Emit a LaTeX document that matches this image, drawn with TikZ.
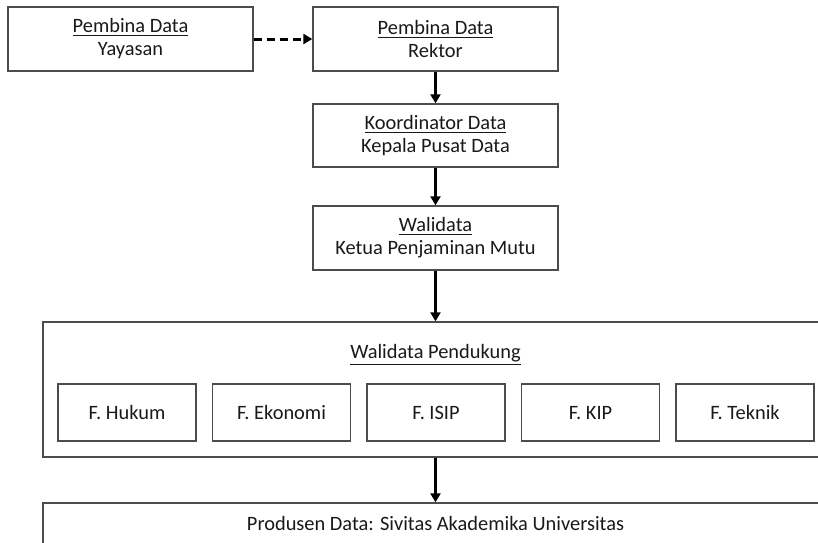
\documentclass[tikz,border=0pt]{standalone}
\usepackage{fontspec}
\setmainfont{Carlito}
\usetikzlibrary{arrows.meta}

\begin{document}
\begin{tikzpicture}[x=0.5pt,y=-0.5pt,
  box/.style={draw=black!70,line width=0.7pt,fill=white,align=center,inner sep=0pt,
    minimum width=122.5pt,minimum height=32pt,text=black!90,
    font=\fontsize{10.2}{11.5}\selectfont},
  fak/.style={box,minimum width=69pt,minimum height=28.5pt,text height=8pt,text depth=1.5pt},
  arr/.style={line width=1.5pt,-{Triangle[length=4.5pt,width=5pt]}}]
\useasboundingbox (0,0) rectangle (818,542);
\begin{scope}
  \node[box] (yay) at (130.5,39) {\underline{Pembina Data}\\Yayasan};
  \node[box] (rek) at (435.5,39) {\underline{Pembina Data}\\Rektor};
  \node[box,minimum height=31.5pt] (koor) at (435.5,135.5) {\underline{Koordinator Data}\\Kepala Pusat Data};
  \node[box] (wali) at (435.5,238) {\underline{Walidata}\\Ketua Penjaminan Mutu};
\end{scope}
\begin{scope}
  \node[box,minimum width=392.5pt,minimum height=67.5pt] (pend) at (435.5,389.5) {};
  \node[font=\fontsize{10.2}{11.5}\selectfont,text=black!90] (pendlbl) at (435.5,355) {\underline{Walidata Pendukung}};
  \node[fak] (hukum) at (127,412.5) {F. Hukum};
  \node[fak] (eko) at (281.5,412.5) {F. Ekonomi};
  \node[fak] (isip) at (436,412.5) {F. ISIP};
  \node[fak] (kip) at (590.5,412.5) {F. KIP};
  \node[fak] (tek) at (745,412.5) {F. Teknik};
\end{scope}
\node[box,minimum width=392.5pt,minimum height=21pt,text height=8pt,text depth=1.5pt] (prod) at (435.5,524) {Produsen Data: Sivitas Akademika Universitas};
\draw[arr,dash pattern=on 4pt off 2.5pt] (yay) -- (rek);
\draw[arr] (rek) -- (koor);
\draw[arr] (koor) -- (wali);
\draw[arr] (wali) -- (pend);
\draw[arr] (pend) -- (prod);
\end{tikzpicture}
\end{document}
